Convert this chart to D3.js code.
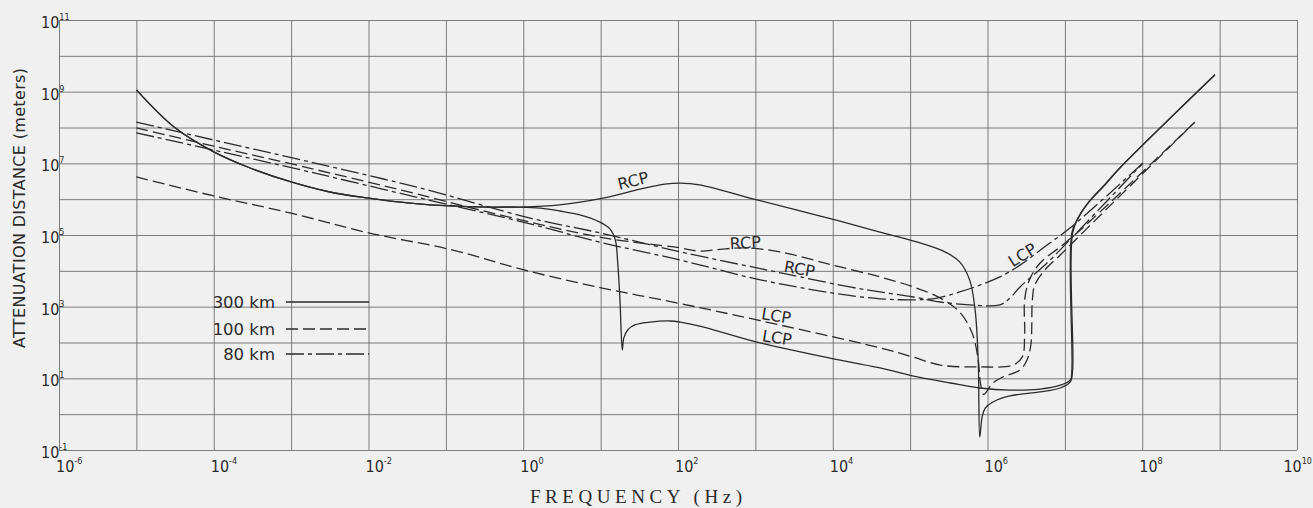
<!DOCTYPE html>
<html>
<head>
<meta charset="utf-8">
<script src="https://cdn.jsdelivr.net/npm/d3@7"></script>
<style>
  html, body { margin: 0; padding: 0; background: #f0f0f0; }
  svg { display: block; }
</style>
</head>
<body>
<div id="chart"></div>
<script>
// every point is [log10 frequency (Hz), log10 attenuation distance (m)]

// 300 km, solid
var rcp300 = [
  [-5.0, 9.05], [-4.5, 7.99], [-4.0, 7.32], [-3.53, 6.87], [-3.0, 6.48], [-2.5, 6.2],
  [-2.0, 6.03], [-1.46, 5.89], [-0.95, 5.81], [-0.43, 5.78], [-0.04, 5.78], [0.47, 5.84],
  [1.03, 6.03], [1.51, 6.28], [1.83, 6.42], [2.03, 6.45], [2.28, 6.40], [3.02, 5.98],
  [3.84, 5.53], [4.61, 5.08], [5.13, 4.78], [5.45, 4.53], [5.64, 4.25], [5.77, 3.74],
  [5.84, 2.91], [5.88, 1.51], [5.90, -0.64], [5.93, -0.08], [5.97, 0.17], [6.07, 0.34],
  [6.29, 0.51], [6.68, 0.62], [6.94, 0.73], [7.07, 0.90], [7.10, 1.23], [7.10, 5.06],
  [7.2, 5.59], [7.33, 5.98], [7.52, 6.42], [7.71, 6.87], [8.94, 9.47]
];
var lcp300 = [
  [-5.0, 9.05], [-4.5, 7.99], [-4.0, 7.32], [-3.53, 6.87], [-3.0, 6.48], [-2.5, 6.2],
  [-2.0, 6.03], [-1.46, 5.89], [-0.95, 5.81], [-0.43, 5.78], [-0.04, 5.78], [0.22, 5.75],
  [0.47, 5.67], [0.73, 5.56], [0.99, 5.36], [1.12, 5.17], [1.19, 4.86], [1.22, 4.25],
  [1.25, 3.19], [1.28, 1.79], [1.30, 2.13], [1.35, 2.35], [1.44, 2.49], [1.64, 2.57],
  [1.90, 2.60], [2.03, 2.57], [2.28, 2.46], [3.02, 2.01], [3.84, 1.62], [4.61, 1.29],
  [5.03, 1.07], [5.52, 0.87], [5.90, 0.73], [6.29, 0.67], [6.68, 0.70], [6.94, 0.81],
  [7.07, 0.95], [7.09, 1.23], [7.09, 5.06], [7.17, 5.47], [7.30, 5.89], [7.52, 6.40],
  [7.71, 6.87], [8.94, 9.47]
];

// 100 km, dashed
var rcp100 = [
  [-5.0, 7.99], [-4.0, 7.48], [-2.89, 6.93], [-1.59, 6.26], [-0.30, 5.56], [0.99, 4.94],
  [2.03, 4.64], [2.28, 4.55], [2.54, 4.60], [2.87, 4.64], [3.32, 4.53], [4.00, 4.16],
  [4.61, 3.83], [5.04, 3.55], [5.39, 3.24], [5.64, 2.85], [5.80, 2.27], [5.88, 1.51],
  [5.91, 0.85], [5.95, 0.55], [6.07, 0.87], [6.20, 1.04], [6.42, 1.23],
  [6.51, 1.51], [6.56, 1.93], [6.58, 3.19], [6.61, 3.60], [6.74, 4.02], [6.94, 4.44],
  [7.2, 5.0], [8.68, 8.15]
];
var lcp100 = [
  [-5.0, 6.62], [-4.0, 6.09], [-3.0, 5.61], [-2.0, 5.06], [-0.91, 4.58], [0.02, 4.02],
  [1.02, 3.52], [2.0, 3.10], [3.02, 2.63], [4.61, 1.85], [5.03, 1.60], [5.39, 1.37],
  [5.90, 1.32], [6.33, 1.37], [6.45, 1.60], [6.48, 2.21], [6.48, 3.19], [6.54, 3.74],
  [6.68, 4.22], [6.94, 4.67], [7.2, 5.14], [8.68, 8.15]
];

// 80 km, dash-dot
var rcp80 = [
  [-5.0, 8.15], [-4.0, 7.65], [-2.76, 7.04], [-1.33, 6.31], [0.09, 5.47], [0.99, 5.06],
  [2.03, 4.53], [3.02, 4.08], [3.58, 3.83], [4.22, 3.55], [4.61, 3.41], [5.04, 3.27],
  [5.39, 3.13], [5.77, 3.05], [6.16, 3.05], [6.29, 3.24], [6.42, 3.55], [6.77, 4.22],
  [7.16, 5.08], [8.01, 7.01]
];
var lcp80 = [
  [-5.0, 7.85], [-4.0, 7.37], [-2.76, 6.76], [-1.33, 6.03], [0.09, 5.31], [0.99, 4.80],
  [2.03, 4.30], [3.02, 3.77], [4.00, 3.38], [4.61, 3.22], [5.04, 3.19], [5.35, 3.24],
  [5.64, 3.41], [5.90, 3.60], [6.16, 3.83], [6.42, 4.16], [6.77, 4.72], [7.07, 5.20],
  [8.01, 7.01]
];

var xTickPowers = [-6, -4, -2, 0, 2, 4, 6, 8, 10];
var yTickPowers = [11, 9, 7, 5, 3, 1, -1];
var legendNames = ['300 km', '100 km', '80 km'];

// label text, log10 f, log10 d, angle
var curveLabels = [
  ['RCP', 1.42, 6.51, -14],
  ['RCP', 2.87, 4.78, -3],
  ['RCP', 3.57, 4.05, 10],
  ['LCP', 3.27, 2.74, 9],
  ['LCP', 3.28, 2.13, 9],
  ['LCP', 6.45, 4.44, -32]
];


(function( container )
{
  var width = 1313,
      height = 508,
      ink = '#2b2b2b',
      gridInk = '#6e6e6e',
      sans = '"DejaVu Sans", "Liberation Sans", sans-serif',
      narrow = '"Liberation Sans Narrow", "DejaVu Sans Condensed", "Liberation Sans", sans-serif',
      dashes = [ null, '12,5', '18,4,4,4' ],
      decadesX = d3.range( -6, 11 ),
      decadesY = d3.range( -1, 12 ),
      svg, x, y, line, series, legend, xl, yl
  ;

  x = d3.scaleLog().domain( [1e-6, 1e10] ).range( [59, 1297] );
  y = d3.scaleLog().domain( [1e-1, 1e11] ).range( [450, 20] );

  svg = d3.select( container )
    .append('svg')
      .attr('width', width )
      .attr('height', height )
  ;

  // grid, one line per decade
  svg.append('g')
    .attr('transform', 'translate(0,' + y.range()[0] + ')')
    .call( d3.axisBottom( x )
      .tickValues( decadesX.map( function(p){ return Math.pow( 10, p ); } ) )
      .tickSize( -( y.range()[0] - y.range()[1] ) )
      .tickFormat('') )
    .call( styleGrid );

  svg.append('g')
    .attr('transform', 'translate(' + x.range()[0] + ',0)')
    .call( d3.axisLeft( y )
      .tickValues( decadesY.map( function(p){ return Math.pow( 10, p ); } ) )
      .tickSize( -( x.range()[1] - x.range()[0] ) )
      .tickFormat('') )
    .call( styleGrid );

  function styleGrid( g )
  {
    g.select('.domain').remove();
    g.selectAll('.tick line')
      .attr('stroke', gridInk )
      .attr('stroke-width', 0.9 );
  }

  // tick labels, 10 with a raised power
  xl = svg.append('g')
    .selectAll('text')
    .data( xTickPowers )
    .enter()
      .append('text')
      .attr('y', 472 )
      .attr('font-family', narrow )
      .attr('font-size', 16 )
      .attr('fill', ink );
  xl.append('tspan').text('10');
  xl.append('tspan')
    .attr('font-size', 9 )
    .attr('dy', -8 )
    .text( function(p){ return p; } );
  // keep the last label inside the page
  xl.attr('x', function(p)
  {
    var w = this.getComputedTextLength();
    return Math.min( x( Math.pow( 10, p ) ) - 3, width - 1 - w );
  });

  yl = svg.append('g')
    .selectAll('text')
    .data( yTickPowers )
    .enter()
      .append('text')
      .attr('x', 41 )
      .attr('y', function(p){ return y( Math.pow( 10, p ) ) + 8; })
      .attr('font-family', narrow )
      .attr('font-size', 16 )
      .attr('fill', ink );
  yl.append('tspan').text('10');
  yl.append('tspan')
    .attr('font-size', 9 )
    .attr('dy', -8 )
    .text( function(p){ return p; } );

  // axis titles
  svg.append('text')
    .attr('x', 636 )
    .attr('y', 503 )
    .attr('text-anchor', 'middle')
    .attr('font-family', '"Liberation Serif", "DejaVu Serif", serif')
    .attr('font-size', 19 )
    .attr('textLength', 212 )
    .attr('lengthAdjust', 'spacing')
    .attr('fill', ink )
    .text('FREQUENCY (Hz)');

  svg.append('text')
    .attr('transform', 'translate(25,208) rotate(-90)')
    .attr('text-anchor', 'middle')
    .attr('font-family', sans )
    .attr('font-size', 16 )
    .attr('textLength', 280 )
    .attr('lengthAdjust', 'spacing')
    .attr('fill', ink )
    .text('ATTENUATION  DISTANCE  (meters)');

  // curves
  line = d3.line()
    .curve( d3.curveCatmullRom.alpha( 0.5 ) )
    .x( function(d){ return x( Math.pow( 10, d[0] ) ); } )
    .y( function(d){ return y( Math.pow( 10, d[1] ) ); } );

  series = [
    { pts: rcp300, style: 0 },
    { pts: lcp300, style: 0 },
    { pts: rcp100, style: 1 },
    { pts: lcp100, style: 1 },
    { pts: rcp80,  style: 2 },
    { pts: lcp80,  style: 2 }
  ];

  svg.append('g')
    .selectAll('path')
    .data( series )
    .enter()
      .append('path')
      .attr('d', function(s){ return line( s.pts ); })
      .attr('fill', 'none')
      .attr('stroke', ink )
      .attr('stroke-width', 1.3 )
      .attr('stroke-dasharray', function(s){ return dashes[ s.style ]; });

  svg.append('g')
    .selectAll('text')
    .data( curveLabels )
    .enter()
      .append('text')
      .attr('transform', function(d)
      {
        return 'translate(' + x( Math.pow( 10, d[1] ) ) + ',' + y( Math.pow( 10, d[2] ) ) + ') rotate(' + d[3] + ')';
      })
      .attr('text-anchor', 'middle')
      .attr('dominant-baseline', 'central')
      .attr('font-family', sans )
      .attr('font-size', 16 )
      .attr('fill', ink )
      .text( function(d){ return d[0]; } );

  // legend
  legend = svg.append('g')
    .selectAll('g')
    .data( legendNames )
    .enter()
      .append('g')
      .attr('transform', function( d, i ){ return 'translate(0,' + [302, 329, 354][i] + ')'; });

  legend.append('text')
    .attr('x', 275 )
    .attr('y', 0 )
    .attr('text-anchor', 'end')
    .attr('dominant-baseline', 'central')
    .attr('font-family', sans )
    .attr('font-size', 16.5 )
    .attr('fill', ink )
    .text( function(d){ return d; } );

  legend.append('line')
    .attr('x1', 286 )
    .attr('x2', 369 )
    .attr('stroke', ink )
    .attr('stroke-width', 1.3 )
    .attr('stroke-dasharray', function( d, i ){ return dashes[i]; });

})( document.getElementById('chart') );
</script>
</body>
</html>
